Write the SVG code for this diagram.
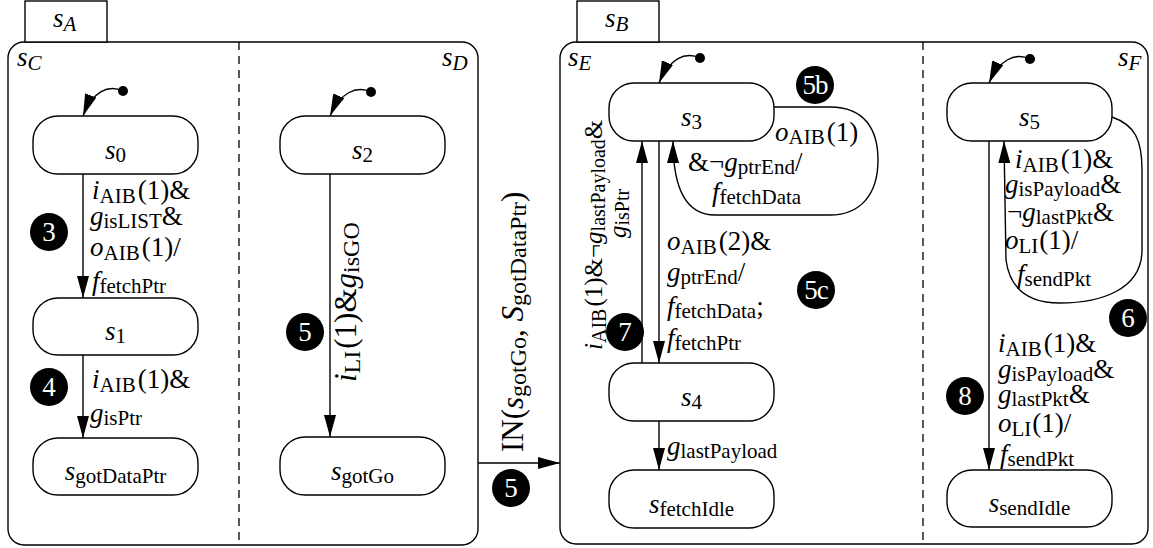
<svg xmlns="http://www.w3.org/2000/svg" width="1153" height="548" viewBox="0 0 1153 548">
<defs>
<style>
.ln{fill:none;stroke:#000;stroke-width:1.4}
.bx{fill:#fff;stroke:#000;stroke-width:1.4}
.dash{fill:none;stroke:#000;stroke-width:1.3;stroke-dasharray:8 6}
.t{font-family:"Liberation Serif","Times New Roman",serif;font-size:27px;fill:#000}
.i{font-style:italic}
.s{font-size:21px}
.nt{text-anchor:middle}
.bc{fill:#000}
.bt{font-family:"Liberation Serif","Times New Roman",serif;font-size:27px;fill:#fff;text-anchor:middle}
.dot{fill:#000}
.big{font-size:31px}
.bigs{font-size:24px}
.sm{font-size:25px}
.sms{font-size:20px}
</style>
<marker id="ah" viewBox="0 0 22 12" refX="22" refY="6" markerWidth="22" markerHeight="12" markerUnits="userSpaceOnUse" orient="auto"><path d="M0,0 L22,6 L0,12 z" fill="#000"/></marker>
</defs>
<rect width="1153" height="548" fill="#fff"/>

<g id="sA">
<rect class="bx" x="8" y="42" width="470" height="503" rx="16"/>
<rect class="bx" x="25" y="1" width="82" height="41"/>
<text class="t" x="53" y="27"><tspan class="i">s</tspan><tspan class="s i" dy="4">A</tspan></text>
<line class="dash" x1="239" y1="42" x2="239" y2="545"/>
</g>
<g id="sC"><text class="t" x="17" y="66"><tspan class="i">s</tspan><tspan class="s i" dy="4">C</tspan></text></g>
<g id="sD"><text class="t" x="442" y="66"><tspan class="i">s</tspan><tspan class="s i" dy="4">D</tspan></text></g>

<g id="sB">
<rect class="bx" x="560" y="42" width="588" height="502" rx="16"/>
<rect class="bx" x="577" y="1" width="82" height="41"/>
<text class="t" x="605" y="27"><tspan class="i">s</tspan><tspan class="s i" dy="4">B</tspan></text>
<line class="dash" x1="923" y1="42" x2="923" y2="544"/>
</g>
<g id="sE"><text class="t" x="568" y="66"><tspan class="i">s</tspan><tspan class="s i" dy="4">E</tspan></text></g>
<g id="sF"><text class="t" x="1118" y="66"><tspan class="i">s</tspan><tspan class="s i" dy="4">F</tspan></text></g>

<g id="s0"><rect class="bx" x="33" y="116" width="165" height="58" rx="25"/><text class="t nt" x="115.5" y="159"><tspan class="i">s</tspan><tspan class="s" dy="3">0</tspan></text></g>
<g id="s1"><rect class="bx" x="33" y="298" width="165" height="57" rx="25"/><text class="t nt" x="115.5" y="340"><tspan class="i">s</tspan><tspan class="s" dy="3">1</tspan></text></g>
<g id="sgotDataPtr"><rect class="bx" x="33" y="438" width="165" height="57" rx="25"/><text class="t nt" x="115.5" y="480"><tspan class="i">s</tspan><tspan class="s" dy="3">gotDataPtr</tspan></text></g>
<g id="s2"><rect class="bx" x="280" y="116" width="165" height="58" rx="25"/><text class="t nt" x="362.5" y="159"><tspan class="i">s</tspan><tspan class="s" dy="3">2</tspan></text></g>
<g id="sgotGo"><rect class="bx" x="280" y="437" width="165" height="58" rx="25"/><text class="t nt" x="362.5" y="480"><tspan class="i">s</tspan><tspan class="s" dy="3">gotGo</tspan></text></g>
<g id="s3"><rect class="bx" x="609" y="83" width="165" height="58" rx="25"/><text class="t nt" x="691.5" y="126"><tspan class="i">s</tspan><tspan class="s" dy="3">3</tspan></text></g>
<g id="s4"><rect class="bx" x="609" y="363" width="165" height="58" rx="25"/><text class="t nt" x="691.5" y="406"><tspan class="i">s</tspan><tspan class="s" dy="3">4</tspan></text></g>
<g id="sfetchIdle"><rect class="bx" x="609" y="470" width="165" height="58" rx="25"/><text class="t nt" x="691.5" y="513"><tspan class="i">s</tspan><tspan class="s" dy="3">fetchIdle</tspan></text></g>
<g id="s5"><rect class="bx" x="947" y="83" width="165" height="58" rx="25"/><text class="t nt" x="1029.5" y="126"><tspan class="i">s</tspan><tspan class="s" dy="3">5</tspan></text></g>
<g id="ssendIdle"><rect class="bx" x="947" y="470" width="165" height="57" rx="25"/><text class="t nt" x="1029.5" y="512"><tspan class="i">s</tspan><tspan class="s" dy="3">sendIdle</tspan></text></g>

<g id="connectors">
<circle class="dot" cx="123" cy="91" r="5"/>
<path class="ln" d="M123,91 C108,84 92,92 83,116" marker-end="url(#ah)"/>
<circle class="dot" cx="371" cy="92" r="5"/>
<path class="ln" d="M371,92 C356,85 340,93 330,116" marker-end="url(#ah)"/>
<circle class="dot" cx="700" cy="58" r="5"/>
<path class="ln" d="M700,58 C685,51 669,59 659,83" marker-end="url(#ah)"/>
<circle class="dot" cx="1030" cy="59" r="5"/>
<path class="ln" d="M1030,59 C1015,52 999,60 989,83" marker-end="url(#ah)"/>

<line class="ln" x1="83" y1="174" x2="83" y2="298" marker-end="url(#ah)"/>
<line class="ln" x1="83" y1="355" x2="83" y2="438" marker-end="url(#ah)"/>
<line class="ln" x1="330" y1="174" x2="330" y2="437" marker-end="url(#ah)"/>
<line class="ln" x1="478" y1="463" x2="560" y2="463" marker-end="url(#ah)"/>
<line class="ln" x1="659" y1="141" x2="659" y2="363" marker-end="url(#ah)"/>
<line class="ln" x1="642" y1="363" x2="642" y2="141" marker-end="url(#ah)"/>
<path class="ln" d="M774,107 L830,107 C865,107 878,130 878,160 C878,195 860,215 830,215 L715,215 C690,215 673,195 673,141" marker-end="url(#ah)"/>
<line class="ln" x1="659" y1="421" x2="659" y2="470" marker-end="url(#ah)"/>
<path class="ln" d="M1112,117 C1135,125 1142,140 1142,170 L1142,250 C1142,290 1100,303 1060,303 C1030,303 1010,290 1006,260 L1004,141" marker-end="url(#ah)"/>
<line class="ln" x1="989" y1="141" x2="989" y2="470" marker-end="url(#ah)"/>
</g>

<g id="labels">
<text class="t" x="92" y="199"><tspan class="i">i</tspan><tspan class="s" dy="4">AIB</tspan><tspan dy="-4" dx="2">(1)&amp;</tspan></text>
<text class="t" x="90" y="225"><tspan class="i">g</tspan><tspan class="s" dy="3">isLIST</tspan><tspan dy="-3">&amp;</tspan></text>
<text class="t" x="90" y="256"><tspan class="i">o</tspan><tspan class="s" dy="4">AIB</tspan><tspan dy="-4" dx="2">(1)/</tspan></text>
<text class="t" x="92" y="290"><tspan class="i">f</tspan><tspan class="s" dy="3">fetchPtr</tspan></text>

<text class="t" x="92" y="388"><tspan class="i">i</tspan><tspan class="s" dy="4">AIB</tspan><tspan dy="-4" dx="2">(1)&amp;</tspan></text>
<text class="t" x="90" y="422"><tspan class="i">g</tspan><tspan class="s" dy="3">isPtr</tspan></text>

<text class="t big" transform="translate(356,382) rotate(-90)"><tspan class="i">i</tspan><tspan class="bigs" dy="4">LI</tspan><tspan dy="-4" dx="2">(1)&amp;</tspan><tspan class="i">g</tspan><tspan class="bigs" dy="3">isGO</tspan></text>

<text class="t big" transform="translate(523,452) rotate(-90)">IN(<tspan class="i">s</tspan><tspan class="bigs" dy="3">gotGo</tspan><tspan dy="-3">, </tspan><tspan class="i">S</tspan><tspan class="bigs" dy="3">gotDataPtr</tspan><tspan dy="-3">)</tspan></text>

<text class="t" x="775" y="141"><tspan class="i">o</tspan><tspan class="s" dy="3">AIB</tspan><tspan dy="-3" dx="2">(1)</tspan></text>
<text class="t" x="688" y="171">&amp;¬<tspan class="i">g</tspan><tspan class="s" dy="3">ptrEnd</tspan><tspan dy="-3">/</tspan></text>
<text class="t" x="712" y="201"><tspan class="i">f</tspan><tspan class="s" dy="3">fetchData</tspan></text>

<text class="t" x="667" y="250"><tspan class="i">o</tspan><tspan class="s" dy="4">AIB</tspan><tspan dy="-4" dx="2">(2)&amp;</tspan></text>
<text class="t" x="667" y="281"><tspan class="i">g</tspan><tspan class="s" dy="3">ptrEnd</tspan><tspan dy="-3">/</tspan></text>
<text class="t" x="667" y="315"><tspan class="i">f</tspan><tspan class="s" dy="3">fetchData</tspan><tspan dy="-3">;</tspan></text>
<text class="t" x="667" y="347"><tspan class="i">f</tspan><tspan class="s" dy="3">fetchPtr</tspan></text>

<text class="t sm" transform="translate(602,350) rotate(-90)"><tspan class="i">i</tspan><tspan class="sms" dy="4">AIB</tspan><tspan dy="-4" dx="2">(1)&amp;¬</tspan><tspan class="i">g</tspan><tspan class="sms" dy="3">lastPayload</tspan><tspan dy="-3">&amp;</tspan></text>
<text class="t sm" transform="translate(626,238) rotate(-90)"><tspan class="i">g</tspan><tspan class="sms" dy="3">isPtr</tspan></text>

<text class="t" x="667" y="455"><tspan class="i">g</tspan><tspan class="s" dy="3">lastPayload</tspan></text>

<text class="t" x="1015" y="168"><tspan class="i">i</tspan><tspan class="s" dy="4">AIB</tspan><tspan dy="-4" dx="2">(1)&amp;</tspan></text>
<text class="t" x="1005" y="193"><tspan class="i">g</tspan><tspan class="s" dy="3">isPayload</tspan><tspan dy="-3">&amp;</tspan></text>
<text class="t" x="1007" y="221">¬<tspan class="i">g</tspan><tspan class="s" dy="3">lastPkt</tspan><tspan dy="-3">&amp;</tspan></text>
<text class="t" x="1005" y="249"><tspan class="i">o</tspan><tspan class="s" dy="4">LI</tspan><tspan dy="-4" dx="1">(1)/</tspan></text>
<text class="t" x="1017" y="283"><tspan class="i">f</tspan><tspan class="s" dy="3">sendPkt</tspan></text>

<text class="t" x="998" y="352"><tspan class="i">i</tspan><tspan class="s" dy="4">AIB</tspan><tspan dy="-4" dx="2">(1)&amp;</tspan></text>
<text class="t" x="998" y="378"><tspan class="i">g</tspan><tspan class="s" dy="3">isPayload</tspan><tspan dy="-3">&amp;</tspan></text>
<text class="t" x="998" y="403"><tspan class="i">g</tspan><tspan class="s" dy="3">lastPkt</tspan><tspan dy="-3">&amp;</tspan></text>
<text class="t" x="998" y="432"><tspan class="i">o</tspan><tspan class="s" dy="4">LI</tspan><tspan dy="-4" dx="1">(1)/</tspan></text>
<text class="t" x="1000" y="463"><tspan class="i">f</tspan><tspan class="s" dy="3">sendPkt</tspan></text>
</g>

<g id="badges">
<circle class="bc" cx="49" cy="232" r="19"/><text class="bt" x="49" y="241">3</text>
<circle class="bc" cx="49" cy="387" r="19"/><text class="bt" x="49" y="396">4</text>
<circle class="bc" cx="305" cy="332" r="19"/><text class="bt" x="305" y="341">5</text>
<circle class="bc" cx="511" cy="488" r="19"/><text class="bt" x="511" y="497">5</text>
<circle class="bc" cx="815" cy="85" r="19"/><text class="bt" x="815" y="94" letter-spacing="-1">5b</text>
<circle class="bc" cx="816" cy="290" r="19"/><text class="bt" x="816" y="299" letter-spacing="-1">5c</text>
<circle class="bc" cx="625" cy="332" r="19"/><text class="bt" x="625" y="341">7</text>
<circle class="bc" cx="1128" cy="318" r="19"/><text class="bt" x="1128" y="327">6</text>
<circle class="bc" cx="965" cy="396" r="19"/><text class="bt" x="965" y="405">8</text>
</g>
</svg>
